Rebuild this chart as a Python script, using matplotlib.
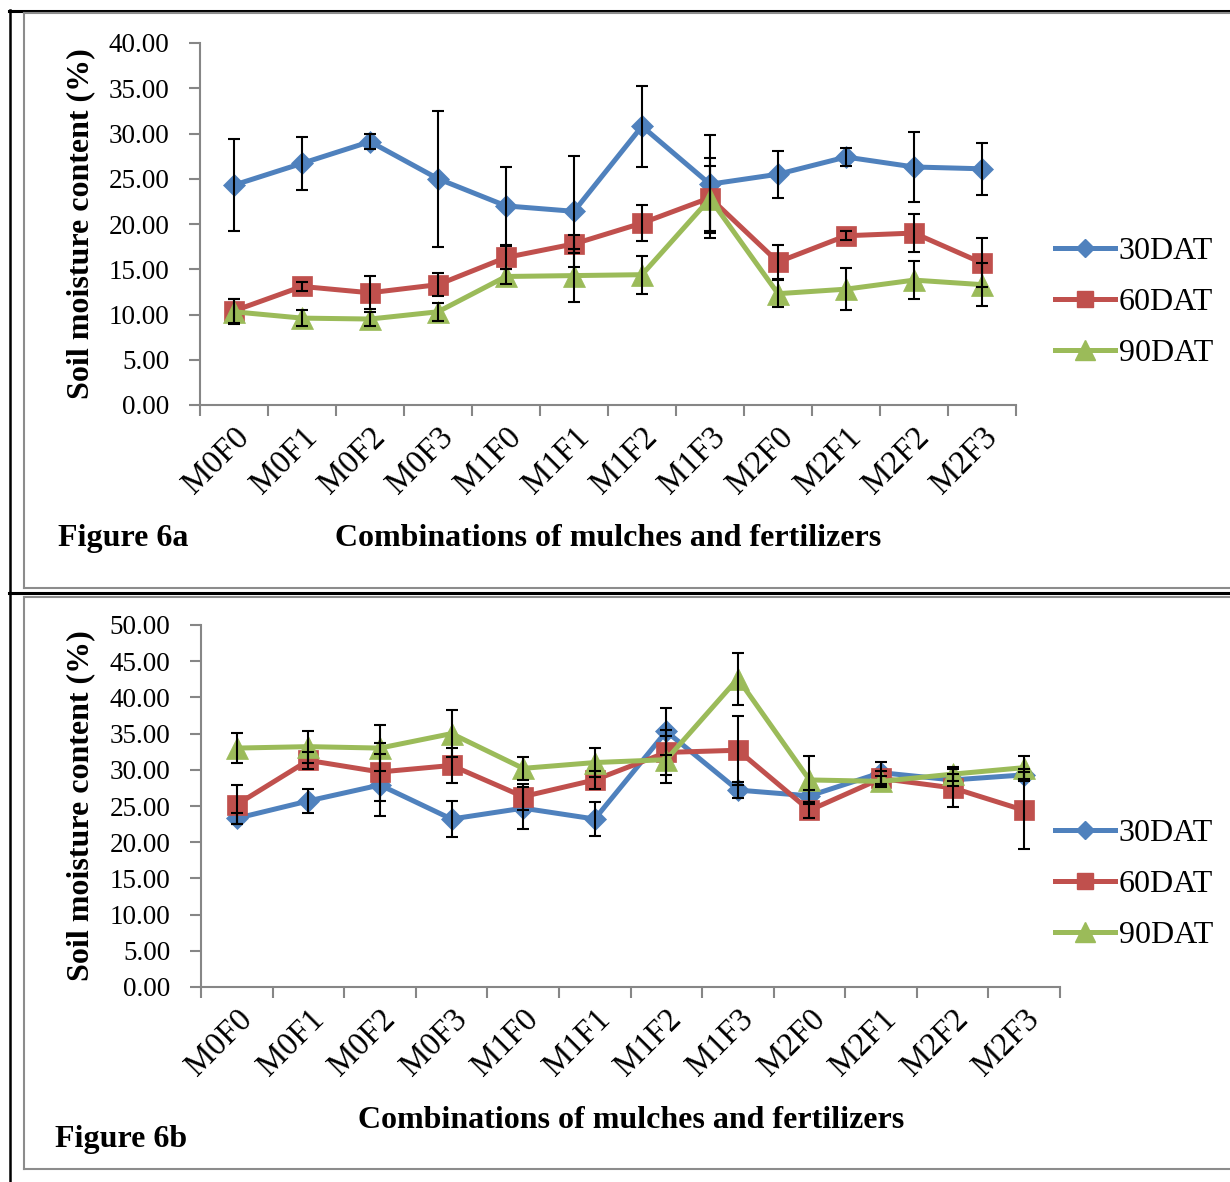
import matplotlib
matplotlib.use("Agg")
import matplotlib.pyplot as plt
from matplotlib.lines import Line2D
from matplotlib.ticker import FixedLocator, FormatStrFormatter
from matplotlib.transforms import ScaledTranslation

plt.rcParams['font.family'] = ['Liberation Serif', 'DejaVu Serif']

combos = ["M0F0", "M0F1", "M0F2", "M0F3", "M1F0", "M1F1",
          "M1F2", "M1F3", "M2F0", "M2F1", "M2F2", "M2F3"]
series_names = ["30DAT", "60DAT", "90DAT"]

# Figure 6a
dat30_a = [24.3, 26.7, 29.1, 25.0, 22.0, 21.4, 30.8, 24.4, 25.5, 27.4, 26.3, 26.1]
err30_a = [5.1, 2.9, 0.8, 7.5, 4.3, 6.1, 4.5, 5.4, 2.6, 1.0, 3.9, 2.9]
dat60_a = [10.4, 13.1, 12.4, 13.3, 16.3, 17.8, 20.1, 22.9, 15.8, 18.7, 19.0, 15.7]
err60_a = [1.3, 0.5, 1.8, 1.3, 1.3, 1.0, 2.0, 4.4, 1.9, 0.5, 2.1, 2.7]
dat90_a = [10.3, 9.6, 9.5, 10.3, 14.2, 14.3, 14.4, 22.8, 12.3, 12.8, 13.8, 13.3]
err90_a = [1.4, 0.9, 0.8, 1.0, 0.8, 2.9, 2.1, 3.6, 1.5, 2.3, 2.1, 2.4]

# Figure 6b
dat30_b = [23.3, 25.7, 27.9, 23.2, 24.7, 23.2, 35.3, 27.2, 26.4, 29.6, 28.6, 29.3]
err30_b = [0.8, 1.6, 4.3, 2.5, 2.9, 2.4, 3.2, 1.1, 0.8, 1.5, 0.8, 0.8]
dat60_b = [25.2, 31.3, 29.7, 30.6, 26.3, 28.6, 32.4, 32.7, 24.4, 28.8, 27.5, 24.4]
err60_b = [2.7, 1.2, 4.0, 2.4, 1.8, 1.2, 3.1, 4.8, 1.0, 1.0, 2.6, 5.3]
dat90_b = [33.0, 33.2, 33.0, 35.0, 30.2, 31.0, 31.4, 42.6, 28.6, 28.4, 29.4, 30.3]
err90_b = [2.1, 2.2, 3.2, 3.3, 1.6, 2.0, 3.2, 3.6, 3.3, 0.8, 1.0, 1.6]

colors = ["#4F81BD", "#C0504D", "#9BBB59"]
markers = ["D", "s", "^"]
msizes = [11, 14, 16.5]
spine_gray = "#868686"

W, H = 1230, 1182
fig = plt.figure(figsize=(W / 100, H / 100), dpi=100)


def px_axes(left, top, right, bottom):
    return fig.add_axes([left / W, 1 - bottom / H, (right - left) / W, (bottom - top) / H])


def draw_panel(ax, values, errors, ymax, label_x):
    x = list(range(len(combos)))
    for vals, errs, c, m, ms in zip(values, errors, colors, markers, msizes):
        ax.plot(x, vals, color=c, lw=3.6, marker=m, ms=ms, mec=c, mew=0.5, zorder=2)
        ax.errorbar(x, vals, yerr=errs, fmt="none", ecolor="black", elinewidth=1.5,
                    capsize=4.3, capthick=1.5, zorder=3)
    ax.set_xlim(-0.5, len(combos) - 0.5)
    ax.set_ylim(0, ymax)
    ax.yaxis.set_major_locator(FixedLocator([i * 5 for i in range(int(ymax / 5) + 1)]))
    ax.yaxis.set_major_formatter(FormatStrFormatter("%.2f"))
    ax.set_xticks(x)
    ax.set_xticklabels(combos, rotation=45, ha="right", va="top", rotation_mode="anchor")
    shift = ScaledTranslation(-10 / 100, -3 / 100, fig.dpi_scale_trans)
    for lab in ax.get_xticklabels():
        lab.set_transform(lab.get_transform() + shift)
    ax.xaxis.set_minor_locator(FixedLocator([i - 0.5 for i in range(len(combos) + 1)]))
    ax.tick_params(axis="x", which="major", length=0, pad=12, labelsize=23.5)
    ax.tick_params(axis="x", which="minor", length=8, width=1.5, color=spine_gray, direction="out")
    ax.tick_params(axis="y", length=8, width=1.5, color=spine_gray, direction="out", pad=14,
                   labelsize=19.5)
    for s in ["top", "right"]:
        ax.spines[s].set_visible(False)
    for s in ["left", "bottom"]:
        ax.spines[s].set_color(spine_gray)
        ax.spines[s].set_linewidth(1.5)
    ax.set_ylabel("Soil moisture content (%)", fontsize=23, fontweight="bold")
    ax.yaxis.set_label_coords(label_x, 0.5)


ax1 = px_axes(200, 43, 1016, 405)
draw_panel(ax1, [dat30_a, dat60_a, dat90_a], [err30_a, err60_a, err90_a], 40, (95 - 200) / 816)
ax2 = px_axes(201, 625, 1060, 987)
draw_panel(ax2, [dat30_b, dat60_b, dat90_b], [err30_b, err60_b, err90_b], 50, (95 - 201) / 859)

handles = [Line2D([], [], color=c, lw=3.6, marker=m, ms=ms * 0.85, mec=c)
           for c, m, ms in zip(colors, markers, msizes)]
for top_px in (224, 806):
    fig.legend(handles, series_names, loc="upper left",
               bbox_to_anchor=(1042 / W, 1 - top_px / H), frameon=False,
               fontsize=23, handlelength=1.9, handletextpad=0.1,
               labelspacing=0.68, borderaxespad=0, numpoints=1)

fig.text(608 / W, 1 - 538 / H, "Combinations of mulches and fertilizers",
         ha="center", va="center", fontsize=23, fontweight="bold")
fig.text(631 / W, 1 - 1120 / H, "Combinations of mulches and fertilizers",
         ha="center", va="center", fontsize=23, fontweight="bold")
fig.text(58 / W, 1 - 538 / H, "Figure 6a", ha="left", va="center",
         fontsize=23, fontweight="bold")
fig.text(55 / W, 1 - 1140 / H, "Figure 6b", ha="left", va="center",
         fontsize=23, fontweight="bold")


# table borders around the two figures
def hline(y, x0, x1, color, lw):
    fig.add_artist(Line2D([x0 / W, x1 / W], [1 - y / H, 1 - y / H], color=color, lw=lw))


def vline(x, y0, y1, color, lw):
    fig.add_artist(Line2D([x / W, x / W], [1 - y0 / H, 1 - y1 / H], color=color, lw=lw))


hline(11, 9, W + 5, "black", 2.2)
hline(593, 9, W + 5, "black", 2.2)
vline(10, 10, H + 5, "black", 1.8)
for top, bottom in ((13, 588), (597, 1169)):
    hline(top, 24, W + 5, "#8c8c8c", 1.5)
    hline(bottom, 24, W + 5, "#8c8c8c", 1.5)
    vline(24, top, bottom, "#8c8c8c", 1.5)

fig.savefig("out.png", dpi=100)
